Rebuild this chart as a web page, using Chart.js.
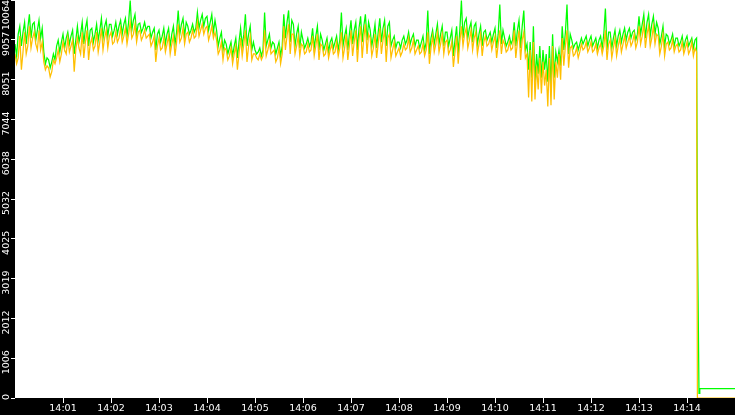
<!DOCTYPE html>
<html lang="en">

<head>
    <meta charset="UTF-8">
    <title>Throughput 14:00 - 14:15</title>
    <script src="https://cdn.jsdelivr.net/npm/chart.js"></script>
    <style>
        html, body { margin: 0; padding: 0; background: #000; }
        #wrap { width: 735px; height: 415px; position: relative; }
    </style>
</head>

<body>
    <div id="wrap"><canvas id="rateChart"></canvas></div>

    <script>
        // seconds after 14:00:00, one sample every 2 s up to 14:14:12
        const sampleStart = 0;
        const sampleStep = 2;

        const greenValues = [
            8950, 8650, 9200, 9400, 8900, 9250, 9500, 8950, 9350, 9700, 9100, 9450,
            9500, 9050, 9300, 9550, 9100, 9350, 8750, 8450, 8600, 8550, 8350, 8500,
            8700, 8550, 8900, 9050, 8750, 9000, 9200, 8850, 9100, 9250, 8950, 9150,
            9300, 8700, 9050, 9400, 9000, 9200, 9500, 8950, 9350, 9550, 8900, 9300,
            9350, 9000, 9200, 9450, 9050, 9300, 9600, 9100, 9400, 9550, 9150, 9450,
            9450, 9150, 9300, 9500, 9200, 9400, 9550, 9200, 9450, 9600, 9150, 9500,
            10050, 9300, 9550, 9700, 9200, 9450, 9480, 9250, 9350, 9500, 9300, 9400,
            9400, 9100, 9250, 9350, 8800, 9200, 9300, 9000, 9150, 9350, 8950, 9200,
            9350, 8900, 9200, 9400, 8950, 9250, 9800, 9200, 9450, 9600, 9150, 9500,
            9400, 9200, 9300, 9450, 9250, 9350, 9750, 9350, 9550, 9700, 9400, 9600,
            9650, 9300, 9500, 9700, 9250, 9550, 9300, 8900, 9100, 9250, 8800, 9050,
            8950, 8700, 8850, 9000, 8650, 8900, 9100, 8600, 9000, 9350, 8900, 9200,
            9700, 8900, 9200, 9400, 8800, 9000, 8800, 8700, 8750, 8850, 8650, 8800,
            9750, 8900, 9050, 9200, 8850, 9000, 8950, 8700, 8850, 9000, 8650, 8900,
            9700, 9100, 9500, 9800, 9000, 9550, 9450, 8900, 9200, 9400, 8850, 9250,
            9050, 8850, 8950, 9100, 8900, 9000, 9350, 8850, 9150, 9400, 8800, 9200,
            9050, 8800, 8950, 9100, 8750, 9000, 9100, 8850, 9000, 9150, 8800, 9050,
            9750, 8900, 9150, 9350, 8800, 9200, 9550, 8950, 9300, 9500, 8800, 9350,
            9650, 9000, 9400, 9700, 9050, 9500, 9300, 8900, 9150, 9450, 8850, 9250,
            9600, 9000, 9350, 9550, 8900, 9400, 9500, 8900, 9050, 9150, 8850, 9000,
            9000, 8850, 9050, 9150, 8950, 9050, 9250, 8950, 9100, 9200, 8900, 9050,
            9050, 8850, 9000, 9150, 8800, 9000, 9800, 8700, 9100, 9300, 8950, 9200,
            9450, 8950, 9200, 9400, 8900, 9250, 9250, 8900, 9100, 9300, 8650, 9050,
            9400, 8700, 9300, 10050, 9100, 9500, 9600, 9100, 9350, 9500, 9000, 9400,
            9480, 8950, 9200, 9400, 8900, 9250, 9300, 9050, 9150, 9250, 9000, 9200,
            9350, 8850, 9200, 9950, 8950, 9300, 9100, 8900, 9000, 9150, 8950, 9050,
            9500, 8900, 9300, 9550, 8850, 9400, 9800, 8800, 8950, 8300, 9000, 8100,
            9400, 8000, 8700, 8200, 8900, 8100, 8800, 8300, 8700, 8000, 8900, 7900,
            9200, 8100, 8750, 8500, 8800, 8400, 9400, 8800, 9250, 9950, 8700, 9200,
            9050, 8850, 8950, 9000, 8800, 8950, 9100, 8950, 9050, 9150, 8900, 9050,
            9150, 8900, 9000, 9100, 8850, 9050, 9150, 8850, 9200, 9850, 8800, 9250,
            9250, 8850, 9100, 9300, 8900, 9150, 9300, 9000, 9200, 9350, 9050, 9250,
            9350, 9100, 9250, 9300, 9050, 9200, 9650, 9200, 9450, 9700, 9100, 9500,
            9700, 9150, 9450, 9650, 9200, 9500, 9350, 8950, 9150, 9400, 8900, 9200,
            9150, 8950, 9050, 9200, 8900, 9100, 9100, 8900, 9000, 9150, 8850, 9050,
            9150, 8900, 9000, 9100, 8850, 9050, 9100
        ];

        const orangeValues = [
            8700, 8450, 8600, 9150, 8300, 8750, 9250, 8700, 8900, 9400, 8850, 9100,
            9250, 8950, 8800, 9300, 8800, 9000, 8500, 8300, 8400, 8350, 8120, 8250,
            8550, 8450, 8600, 8800, 8500, 8700, 9000, 8800, 8700, 9100, 8750, 8900,
            9050, 8250, 8800, 9100, 8850, 8700, 9250, 8600, 9000, 9300, 8550, 8950,
            9100, 8800, 8900, 9250, 8750, 9000, 9350, 8800, 9100, 9300, 8850, 9150,
            9250, 8950, 9000, 9250, 9000, 9100, 9350, 9000, 9150, 9350, 8950, 9200,
            9500, 9100, 9200, 9450, 9000, 9250, 9300, 9050, 9150, 9300, 9100, 9150,
            9200, 8900, 9000, 9150, 8500, 8900, 9100, 8800, 8850, 9100, 8750, 8950,
            9150, 8700, 8950, 9150, 8650, 9000, 9450, 9000, 9100, 9350, 8950, 9200,
            9250, 9000, 9100, 9300, 9100, 9150, 9500, 9150, 9300, 9450, 9200, 9350,
            9400, 9050, 9200, 9400, 9100, 9250, 9050, 8700, 8800, 9000, 8550, 8850,
            8800, 8550, 8650, 8850, 8450, 8700, 8900, 8300, 8700, 9100, 8650, 8950,
            9300, 8500, 8900, 9150, 8550, 8700, 8700, 8600, 8550, 8700, 8550, 8650,
            9300, 8650, 8800, 9000, 8700, 8750, 8800, 8500, 8600, 8850, 8450, 8700,
            9400, 8800, 9150, 9450, 8700, 9200, 9200, 8700, 8900, 9150, 8650, 8950,
            8900, 8700, 8750, 8950, 8750, 8800, 9150, 8650, 8900, 9200, 8550, 8950,
            8900, 8650, 8700, 8950, 8600, 8800, 8950, 8700, 8750, 9000, 8650, 8850,
            9250, 8600, 8850, 9200, 8550, 8900, 9300, 8650, 9000, 9300, 8500, 9050,
            9400, 8600, 9100, 9450, 8700, 9200, 9100, 8650, 8850, 9200, 8600, 8950,
            9350, 8700, 9050, 9300, 8500, 9100, 9200, 8600, 8800, 9000, 8650, 8750,
            8850, 8650, 8750, 8950, 8800, 8850, 9100, 8750, 8850, 9050, 8700, 8800,
            8900, 8700, 8750, 8950, 8650, 8800, 9250, 8450, 8850, 9150, 8750, 8950,
            9250, 8750, 8950, 9200, 8700, 9000, 9050, 8700, 8800, 9000, 8370, 8750,
            9150, 8450, 9000, 9400, 8900, 9200, 9350, 8850, 9050, 9300, 8800, 9100,
            9250, 8700, 8950, 9200, 8650, 9000, 9150, 8900, 8950, 9100, 8800, 9000,
            9150, 8600, 8950, 9300, 8700, 9050, 8950, 8750, 8800, 9000, 8800, 8850,
            9300, 8600, 9000, 9300, 8550, 9050, 9250, 8600, 8700, 7600, 8800, 7500,
            9000, 7550, 8400, 7800, 8600, 7700, 8500, 7900, 8300, 7370, 8600, 7400,
            8900, 7550, 8500, 8100, 8700, 8050, 9100, 8400, 8900, 9300, 8350, 8850,
            8900, 8650, 8700, 8850, 8600, 8750, 8950, 8800, 8850, 9000, 8750, 8850,
            9000, 8750, 8800, 8950, 8700, 8850, 8950, 8700, 8900, 9300, 8550, 8950,
            9050, 8600, 8850, 9100, 8650, 8900, 9100, 8750, 8950, 9150, 8850, 9000,
            9150, 8900, 9000, 9200, 8850, 9000, 9400, 8950, 9150, 9450, 8850, 9200,
            9400, 8900, 9100, 9400, 8950, 9200, 9150, 8700, 8900, 9200, 8650, 8950,
            9000, 8800, 8850, 9050, 8750, 8900, 8950, 8750, 8800, 9000, 8700, 8850,
            9000, 8700, 8800, 9000, 8650, 8850, 8750
        ];

        // what happens after the feed stops
        const greenTailTimes = [853, 855, 856, 900];
        const greenTail = [4350, 120, 240, 240];
        const orangeTailTimes = [853, 900];
        const orangeTail = [0, 0];

        const xTickValues = [60, 120, 180, 240, 300, 360, 420, 480, 540, 600, 660, 720, 780, 840];
        const xTickLabels = ['14:01', '14:02', '14:03', '14:04', '14:05', '14:06', '14:07',
            '14:08', '14:09', '14:10', '14:11', '14:12', '14:13', '14:14'];
        const yTickValues = [0, 1006, 2012, 3019, 4025, 5032, 6038, 7044, 8051, 9057, 10064];
        const yTickLabels = ['0', '1006', '2012', '3019', '4025', '5032', '6038', '7044', '8051', '9057', '10064'];

        function toPoints(values, tailTimes, tail) {
            const pts = values.map((v, i) => ({ x: sampleStart + i * sampleStep, y: v }));
            tailTimes.forEach((t, i) => pts.push({ x: t, y: tail[i] }));
            return pts;
        }

        const FONT = '"DejaVu Sans", sans-serif';

        // black frame, white plot area
        const frame = {
            id: 'frame',
            beforeDraw(chart) {
                const { ctx, chartArea: a } = chart;
                ctx.save();
                ctx.fillStyle = '#000';
                ctx.fillRect(0, 0, chart.width, chart.height);
                ctx.fillStyle = '#fff';
                ctx.fillRect(a.left, a.top, a.right - a.left, a.bottom - a.top);
                ctx.restore();
            },
            afterDraw(chart) {
                // vertical y labels, kept inside the frame
                const { ctx } = chart;
                const y = chart.scales.y;
                ctx.save();
                ctx.fillStyle = '#fff';
                ctx.font = '9.5px ' + FONT;
                ctx.textAlign = 'center';
                ctx.textBaseline = 'middle';
                yTickValues.forEach((v, i) => {
                    const label = yTickLabels[i];
                    const w = ctx.measureText(label).width;
                    let cy = y.getPixelForValue(v) + 4;
                    cy = Math.max(w / 2, Math.min(cy, 400 - w / 2));
                    ctx.save();
                    ctx.translate(6.5, cy);
                    ctx.rotate(-Math.PI / 2);
                    ctx.fillText(label, 0, 0);
                    ctx.restore();
                });
                ctx.restore();
            }
        };

        const ctx = document.getElementById('rateChart').getContext('2d');
        new Chart(ctx, {
            type: 'line',
            data: {
                datasets: [{
                    label: 'out',
                    data: toPoints(orangeValues, orangeTailTimes, orangeTail),
                    borderColor: '#ffbf00',
                    borderWidth: 1.25,
                    pointRadius: 0,
                    tension: 0
                }, {
                    label: 'in',
                    data: toPoints(greenValues, greenTailTimes, greenTail),
                    borderColor: '#00ff00',
                    borderWidth: 1.25,
                    pointRadius: 0,
                    tension: 0
                }]
            },
            options: {
                responsive: true,
                maintainAspectRatio: false,
                animation: false,
                layout: { padding: 0 },
                plugins: {
                    legend: { display: false },
                    tooltip: { enabled: false }
                },
                scales: {
                    x: {
                        type: 'linear',
                        min: 0,
                        max: 900,
                        border: { display: false },
                        grid: { drawOnChartArea: false, drawTicks: true, tickColor: '#fff', tickLength: 5 },
                        afterBuildTicks: axis => { axis.ticks = xTickValues.map(v => ({ value: v })); },
                        afterFit: axis => { axis.height = 17; },
                        ticks: {
                            color: '#fff',
                            font: { family: FONT, size: 9.5 },
                            padding: 0,
                            maxRotation: 0,
                            autoSkip: false,
                            callback: (value, index) => xTickLabels[index]
                        }
                    },
                    y: {
                        min: 0,
                        max: 10064,
                        border: { display: false },
                        grid: { drawOnChartArea: false, drawTicks: true, tickColor: '#fff', tickLength: 4 },
                        afterBuildTicks: axis => { axis.ticks = yTickValues.map(v => ({ value: v })); },
                        afterFit: axis => { axis.width = 15; },
                        ticks: { display: false }
                    }
                }
            },
            plugins: [frame]
        });
    </script>
</body>

</html>
